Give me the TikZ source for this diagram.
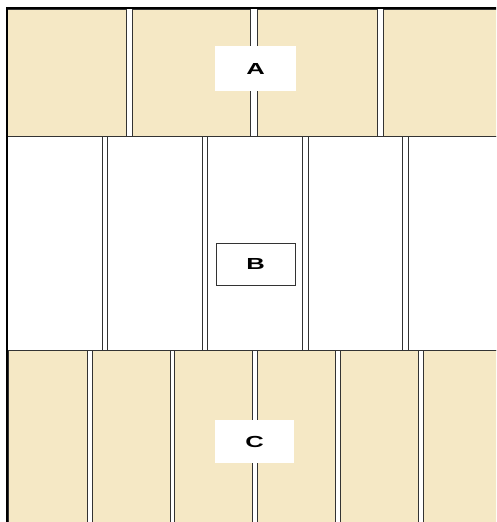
\documentclass[tikz,border=0pt]{standalone}
\usepackage{fontspec}
\setsansfont{Liberation Sans}
\usetikzlibrary{positioning}
\definecolor{deskfill}{RGB}{245,232,197}

\begin{document}
\begin{tikzpicture}[x=1pt,y=-1pt]
\tikzset{
  roombox/.style={rectangle,draw=black!80,line width=1pt,inner sep=0pt,anchor=north west},
  deskbox/.style={roombox,fill=deskfill},
  lanebox/.style={roombox,fill=white,minimum height=214pt},
  tagbox/.style={rectangle,fill=white,inner sep=0pt,font=\sffamily\bfseries\fontsize{16}{16}\selectfont}
}
\clip (0,0) rectangle (496,522);
\fill[white] (0,0) rectangle (496,522);
% middle lanes
\node[lanebox,minimum width=95pt] (n_m1) at (7,136) {};
\node[lanebox,minimum width=95pt] (n_m2) at (107,136) {};
\node[lanebox,minimum width=95pt] (n_m3) at (207,136) {};
\node[lanebox,minimum width=94pt] (n_m4) at (308,136) {};
\node[lanebox,minimum width=97pt] (n_m5) at (408,136) {};
% top row
\node[deskbox,minimum width=119pt,minimum height=127pt] (n_t1) at (7,9) {};
\node[deskbox,minimum width=118pt,minimum height=127pt] (n_t2) at (132,9) {};
\node[deskbox,minimum width=120pt,minimum height=127pt] (n_t3) at (257,9) {};
\node[deskbox,minimum width=122pt,minimum height=127pt] (n_t4) at (383,9) {};
% bottom row
\node[deskbox,minimum width=79pt,minimum height=180pt] (n_b1) at (8,350) {};
\node[deskbox,minimum width=78pt,minimum height=180pt] (n_b2) at (92,350) {};
\node[deskbox,minimum width=78pt,minimum height=180pt] (n_b3) at (174,350) {};
\node[deskbox,minimum width=78pt,minimum height=180pt] (n_b4) at (257,350) {};
\node[deskbox,minimum width=78pt,minimum height=180pt] (n_b5) at (340,350) {};
\node[deskbox,minimum width=80pt,minimum height=180pt] (n_b6) at (423,350) {};
% outer edges
\draw[line width=1.6pt] (7,530) -- (7,8) -- (500,8);
% labels
\node[tagbox,minimum width=81pt,minimum height=45pt] (n_A) at (255.5,68.5) {\scalebox{1.6}[1]{A}};
\node[tagbox,draw=black!80,line width=1pt,minimum width=79pt,minimum height=42pt] (n_B) at (255.5,264) {\scalebox{1.6}[1]{B}};
\node[tagbox,minimum width=79pt,minimum height=43pt] (n_C) at (254.5,441.5) {\scalebox{1.6}[1]{C}};
\end{tikzpicture}
\end{document}
